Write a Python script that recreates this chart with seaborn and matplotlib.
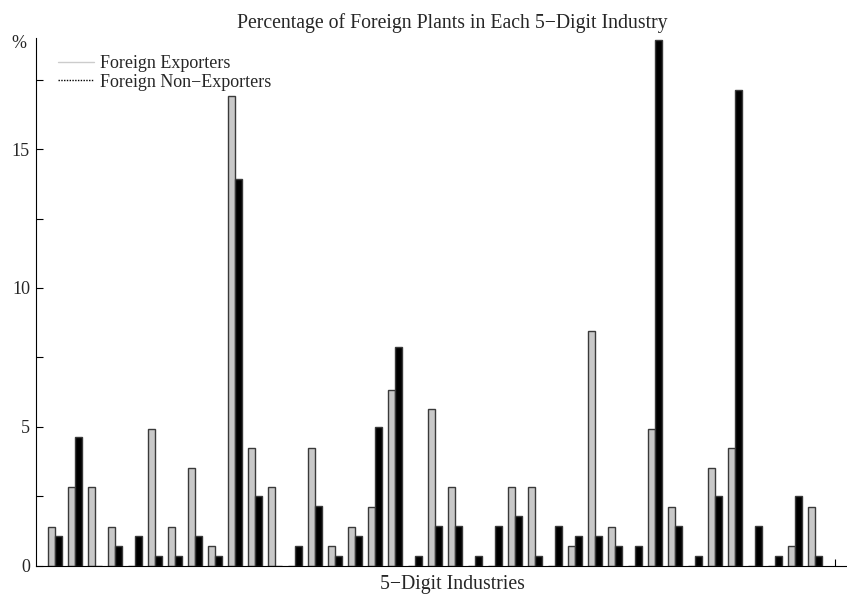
import matplotlib
matplotlib.use("Agg")
import matplotlib.pyplot as plt
from matplotlib.lines import Line2D
import seaborn as sns
import pandas as pd

# Share of foreign plants (%) in each 5-digit industry
industries = [f"I{i:02d}" for i in range(1, 40)]
exporters = [1.41, 2.82, 2.82, 1.41, 0, 4.93, 1.41, 3.52, 0.70, 16.90,
             4.23, 2.82, 0, 4.23, 0.70, 1.41, 2.11, 6.34, 0, 5.63,
             2.82, 0, 0, 2.82, 2.82, 0, 0.70, 8.45, 1.41, 0,
             4.93, 2.11, 0, 3.52, 4.23, 0, 0, 0.70, 2.11]
non_exporters = [1.07, 4.64, 0, 0.71, 1.07, 0.36, 0.36, 1.07, 0.36, 13.93,
                 2.50, 0, 0.71, 2.14, 0.36, 1.07, 5.00, 7.86, 0.36, 1.43,
                 1.43, 0.36, 1.43, 1.79, 0.36, 1.43, 1.07, 1.07, 0.71, 0.71,
                 18.93, 1.43, 0.36, 2.50, 17.14, 1.43, 0.36, 2.50, 0.36]
series_names = ["Foreign Exporters", "Foreign Non\u2212Exporters"]
yticks = [0, 2.5, 5, 7.5, 10, 12.5, 15, 17.5]
ytick_labels = ["0", "", "5", "", "10", "", "15", ""]

df = pd.DataFrame({
    "industry": industries * 2,
    "share": exporters + non_exporters,
    "group": [series_names[0]] * len(industries) + [series_names[1]] * len(industries),
})

sns.set_theme(style="white")
plt.rcParams["font.family"] = ["Liberation Serif", "DejaVu Serif"]
plt.rcParams["font.size"] = 13

fig = plt.figure(figsize=(8.47, 5.94), dpi=100)
ax = fig.add_axes([35.5 / 847, 28.3 / 594, 1 - 35.5 / 847, (565.7 - 38) / 594])

sns.barplot(data=df, x="industry", y="share", hue="group", order=industries,
            hue_order=series_names, palette=["#c8c8c8", "#000000"],
            width=0.7, dodge=True, saturation=1, edgecolor="#3a3a3a",
            linewidth=1.0, legend=False, ax=ax)

ax.set_xlim(-1.0, 39.6)
ax.set_ylim(0, 19)
ax.set_xticks([39])
ax.set_xticklabels([""])
ax.set_yticks(yticks)
ax.set_yticklabels(ytick_labels)
ax.tick_params(axis="both", direction="in", length=5, width=0.8,
               color="black", labelsize=13, pad=4)
ax.tick_params(axis="y", left=True)
ax.tick_params(axis="x", bottom=True)
ax.set_xlabel("")
ax.set_ylabel("")
for side in ["top", "right"]:
    ax.spines[side].set_visible(False)
for side in ["left", "bottom"]:
    ax.spines[side].set_color("black")
    ax.spines[side].set_linewidth(0.8)

handles = [Line2D([], [], color="#cccccc", lw=1.0, ls="-"),
           Line2D([], [], color="black", lw=1.0, ls=(0, (1, 1)))]
ax.legend(handles, series_names, loc="upper left",
          bbox_to_anchor=(0.0277, 0.968), frameon=False, fontsize=13,
          handlelength=2.0, handletextpad=0.35, labelspacing=0.1,
          borderpad=0, borderaxespad=0)

fig.text(452 / 847, 1 - 28 / 594,
         "Percentage of Foreign Plants in Each 5\u2212Digit Industry",
         ha="center", va="baseline", fontsize=14.25)
fig.text(452 / 847, 1 - 589.3 / 594, "5\u2212Digit Industries",
         ha="center", va="baseline", fontsize=14.25)
fig.text(18.5 / 847, 1 - 44 / 594, "%", ha="center", va="center",
         fontsize=13)

fig.savefig("out.png", dpi=100)
